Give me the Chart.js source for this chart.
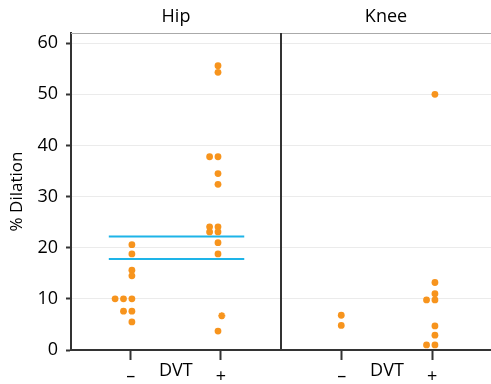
<!DOCTYPE html>
<html>
<head>
<meta charset="utf-8">
<script src="https://cdn.jsdelivr.net/npm/chart.js@4"></script>
<style>
  body { margin: 0; background: #fff; }
  #wrap { width: 491px; height: 384px; }
</style>
</head>
<body>
<div id="wrap"><canvas id="dilationChart"></canvas></div>
<script>
// % dilation by DVT status
const panels = ["Hip", "Knee"];
const dvtLabels = ["–", "+"];
const hipNeg = [20.6, 18.8, 15.6, 14.5, 10, 10, 10, 7.6, 7.6, 5.5];
const hipPos = [55.6, 54.3, 37.8, 37.8, 34.5, 32.4, 24.1, 24.1, 23.1, 23.1, 21.0, 18.8, 3.7];
const hipPosStar = [6.7];
const kneeNeg = [6.8, 4.8];
const kneePos = [50.0, 13.2, 11.0, 9.8, 9.8, 4.7, 2.9, 1.0, 1.0];
const hipRefLines = [22.2, 17.8];
const yTicks = [0, 10, 20, 30, 40, 50, 60];

const orange = "#f7941d";
const blue = "#1eb4e8";
const family = "'Open Sans', sans-serif";

// x axis runs 0..2, one unit per panel
const tickPos = [0.284, 0.714, 1.289, 1.72];
const groupX = { hipNeg: 0.29, hipPos: 0.70, kneeNeg: 1.287, kneePos: 1.733 };
const dodge = 0.04;
const refSpan = [0.18, 0.825];

// equal values get pushed sideways so they don't sit on top of each other
function dots(values, x) {
  const seen = {};
  return values.map(v => {
    const k = seen[v] || 0;
    seen[v] = k + 1;
    return { x: x - k * dodge, y: v };
  });
}

const facetPlugin = {
  id: "facets",
  afterDraw(chart) {
    const { ctx, chartArea: a, scales: { x } } = chart;
    ctx.save();
    // strip border on top
    ctx.strokeStyle = "#aaa";
    ctx.lineWidth = 1;
    ctx.beginPath();
    ctx.moveTo(a.left, a.top + 0.5);
    ctx.lineTo(a.right, a.top + 0.5);
    ctx.stroke();
    // divider between panels
    const xd = Math.round(x.getPixelForValue(1));
    ctx.strokeStyle = "#333";
    ctx.lineWidth = 2;
    ctx.beginPath();
    ctx.moveTo(xd, a.top);
    ctx.lineTo(xd, a.bottom);
    ctx.stroke();
    // panel titles and DVT labels
    ctx.fillStyle = "#000";
    ctx.font = "18px " + family;
    ctx.textAlign = "center";
    ctx.textBaseline = "middle";
    panels.forEach((p, i) => {
      ctx.fillText(p, x.getPixelForValue(i + 0.5), a.top / 2);
      const mid = (x.getPixelForValue(tickPos[2 * i]) + x.getPixelForValue(tickPos[2 * i + 1])) / 2;
      ctx.fillText("DVT", mid, a.bottom + 21);
    });
    ctx.restore();
  }
};

const dotStyle = { type: "scatter", backgroundColor: orange, borderWidth: 0, pointRadius: 3.4, order: 1 };

new Chart(document.getElementById("dilationChart"), {
  data: {
    datasets: [
      ...hipRefLines.map(v => ({
        type: "line",
        data: refSpan.map(px => ({ x: px, y: v })),
        borderColor: blue, borderWidth: 2, pointRadius: 0, order: 2
      })),
      { ...dotStyle, data: dots(hipNeg, groupX.hipNeg) },
      { ...dotStyle, data: dots(hipPos, groupX.hipPos) },
      { ...dotStyle, data: dots(hipPosStar, groupX.hipPos + 0.018), pointStyle: "star",
        borderColor: orange, borderWidth: 2, pointRadius: 3.5 },
      { ...dotStyle, data: dots(kneeNeg, groupX.kneeNeg) },
      { ...dotStyle, data: dots(kneePos, groupX.kneePos) }
    ]
  },
  options: {
    responsive: true,
    maintainAspectRatio: false,
    animation: false,
    layout: { autoPadding: false, padding: { top: 33, right: 0, left: 0, bottom: 0 } },
    plugins: { legend: { display: false }, tooltip: { enabled: false } },
    scales: {
      x: {
        type: "linear", min: 0, max: 2,
        afterBuildTicks: s => { s.ticks = tickPos.map(v => ({ value: v })); },
        afterFit: s => { s.height = 34; s.paddingLeft = 0; s.paddingRight = 0; },
        grid: { drawOnChartArea: false, tickLength: 10, tickColor: "#333", tickWidth: 2 },
        border: { color: "#333", width: 2 },
        ticks: {
          callback: (v, i) => dvtLabels[i % 2],
          font: { family, size: 18 }, color: "#000", padding: 6,
          maxRotation: 0, autoSkip: false
        }
      },
      y: {
        min: 0, max: 62,
        afterBuildTicks: s => { s.ticks = yTicks.map(v => ({ value: v })); },
        afterFit: s => { s.width = 71; s.paddingTop = 0; s.paddingBottom = 0; },
        grid: { color: "#ebebeb", tickColor: "#333", tickLength: 5, tickWidth: 2 },
        border: { color: "#333", width: 2 },
        ticks: { font: { family, size: 18 }, color: "#000", padding: 8 },
        title: {
          display: true, text: "% Dilation", color: "#000",
          font: { family, size: 17 }, padding: { top: 7, bottom: 0 }
        }
      }
    }
  },
  plugins: [facetPlugin]
});
</script>
</body>
</html>
